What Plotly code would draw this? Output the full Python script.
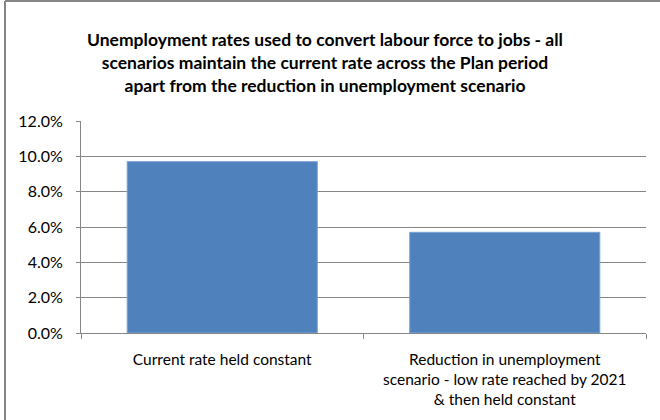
import plotly.graph_objects as go

categories = [
    "Current rate held constant",
    "Reduction in unemployment<br>scenario - low rate reached by 2021<br>& then held constant",
]
values = [0.097, 0.057]
tick_vals = [0, 0.02, 0.04, 0.06, 0.08, 0.10, 0.12]
tick_text = ["0.0%", "2.0%", "4.0%", "6.0%", "8.0%", "10.0%", "12.0%"]
title_text = ("Unemployment rates used to convert labour force to jobs - all<br>"
              "scenarios maintain the current rate across the Plan period<br>"
              "apart from the reduction in unemployment scenario")

FONT = "Lato"
GREY = "#868686"

fig = go.Figure(go.Bar(
    x=categories, y=values,
    marker=dict(color="#4F81BD", line=dict(color="#7EA3D3", width=1)),
    hoverinfo="skip",
))

L, R, T, B = 81, 14, 121, 87
W, H = 660, 420
pw, ph = W - L - R, H - T - B

fig.update_layout(
    width=W, height=H,
    margin=dict(l=L, r=R, t=T, b=B, pad=0),
    paper_bgcolor="white", plot_bgcolor="white",
    bargap=0.327,
    showlegend=False,
    font=dict(family=FONT, size=15.5, color="#000000"),
    title=dict(
        text=title_text,
        x=325 / W, xanchor="center", xref="container",
        y=1 - 46 / H, yanchor="top", yref="container",
        font=dict(family=FONT, size=17.5, color="#000000", weight="bold"),
    ),
    xaxis=dict(
        type="category",
        showline=True, linecolor=GREY, linewidth=1,
        ticks="outside", ticklen=5, tickcolor=GREY, tickson="boundaries",
        showgrid=False,
        tickfont=dict(family=FONT, size=15.5, color="#000000"),
        ticklabelstandoff=12,
    ),
    yaxis=dict(
        range=[0, 0.12],
        tickvals=tick_vals, ticktext=tick_text,
        showline=True, linecolor=GREY, linewidth=1,
        ticks="outside", ticklen=4, tickcolor=GREY,
        showgrid=True, gridcolor=GREY, gridwidth=1,
        zeroline=False,
        tickfont=dict(family=FONT, size=16, color="#000000"),
        ticklabelstandoff=10,
    ),
    shapes=[
        dict(type="line", xref="paper", yref="paper",
             x0=(5 - L) / pw, x1=(W + 5 - L) / pw,
             y0=(H - B - 1) / ph, y1=(H - B - 1) / ph,
             line=dict(color=GREY, width=2)),
        dict(type="line", xref="paper", yref="paper",
             x0=(5 - L) / pw, x1=(5 - L) / pw,
             y0=(H - B - 1) / ph, y1=(H - B - H - 10) / ph,
             line=dict(color=GREY, width=2)),
    ],
)

fig.write_html("out.html", config={"displayModeBar": False},
               post_script="document.body.style.margin='0';")
